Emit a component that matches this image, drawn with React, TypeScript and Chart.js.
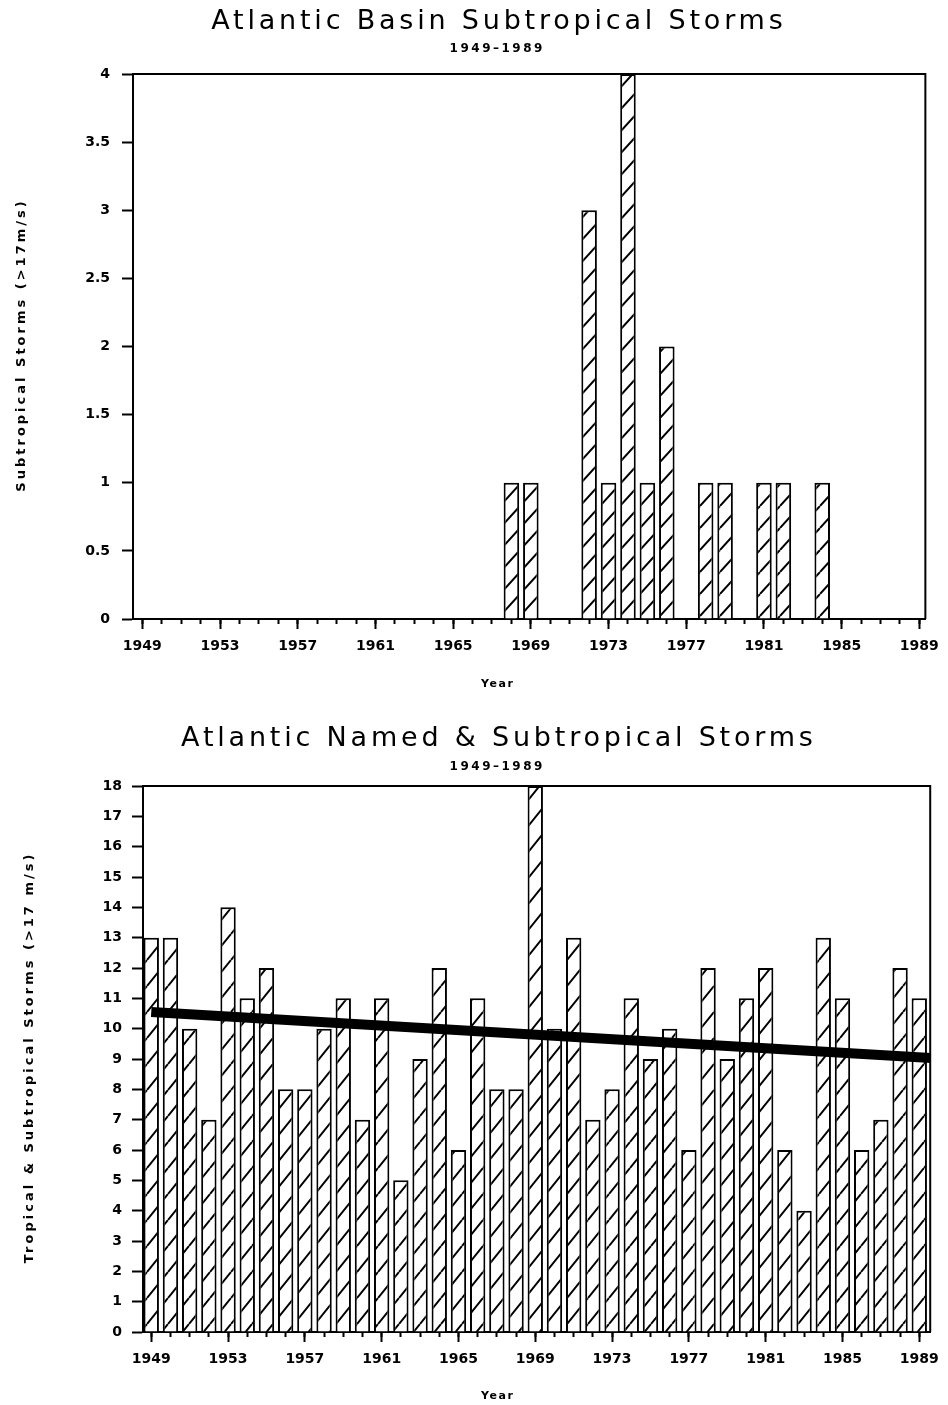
import React, { useEffect, useRef } from 'react';
import { Chart, registerables } from 'chart.js';

Chart.register(...registerables);

// ---------- data ----------
const YEARS = [
  1949, 1950, 1951, 1952, 1953, 1954, 1955, 1956, 1957, 1958,
  1959, 1960, 1961, 1962, 1963, 1964, 1965, 1966, 1967, 1968,
  1969, 1970, 1971, 1972, 1973, 1974, 1975, 1976, 1977, 1978,
  1979, 1980, 1981, 1982, 1983, 1984, 1985, 1986, 1987, 1988, 1989,
];
const LABELED_YEARS = [1949, 1953, 1957, 1961, 1965, 1969, 1973, 1977, 1981, 1985, 1989];

const SUBTROPICAL_STORMS = [
  0, 0, 0, 0, 0, 0, 0, 0, 0, 0,
  0, 0, 0, 0, 0, 0, 0, 0, 0, 1,
  1, 0, 0, 3, 1, 4, 1, 2, 0, 1,
  1, 0, 1, 1, 0, 1, 0, 0, 0, 0, 0,
];
const NAMED_AND_SUBTROPICAL = [
  13, 13, 10, 7, 14, 11, 12, 8, 8, 10,
  11, 7, 11, 5, 9, 12, 6, 11, 8, 8,
  18, 10, 13, 7, 8, 11, 9, 10, 6, 12,
  9, 11, 12, 6, 4, 13, 11, 6, 7, 12, 11,
];
const TREND_YEARS = [1949, 1989.6];
const TREND_VALUES = [10.55, 9.03];

const TOP_TITLE = 'Atlantic Basin Subtropical Storms';
const BOTTOM_TITLE = 'Atlantic Named & Subtropical Storms';
const SUBTITLE = '1949\u20131989';
const TOP_Y_TITLE = 'Subtropical Storms (>17m/s)';
const BOTTOM_Y_TITLE = 'Tropical & Subtropical Storms (>17 m/s)';
const X_TITLE = 'Year';

const FAMILY = '"DejaVu Sans", "Liberation Sans", sans-serif';

type Spec = {
  height: number;
  values: number[];
  yMax: number;
  yStep: number;
  xMin: number;
  xMax: number;
  plotLeft: number;
  padRight: number;
  padTop: number;
  axisHeight: number;
  yTickPad: number;
  title: string;
  yTitle: string;
  titleY: number;
  subtitleY: number;
  yTitleX: number;
  xTitleY: number;
  hatchW: number;
  hatchH: number;
  trend: boolean;
};

const TOP_SPEC: Spec = {
  height: 700,
  values: SUBTROPICAL_STORMS,
  yMax: 4,
  yStep: 0.5,
  xMin: 1948.52,
  xMax: 1989.31,
  plotLeft: 133,
  padRight: 22,
  padTop: 74,
  axisHeight: 81,
  yTickPad: 12,
  title: TOP_TITLE,
  yTitle: TOP_Y_TITLE,
  titleY: 22,
  subtitleY: 49,
  yTitleX: 22,
  xTitleY: 684,
  hatchW: 20,
  hatchH: 22,
  trend: false,
};

const BOTTOM_SPEC: Spec = {
  height: 705,
  values: NAMED_AND_SUBTROPICAL,
  yMax: 18,
  yStep: 1,
  xMin: 1948.57,
  xMax: 1989.57,
  plotLeft: 143,
  padRight: 11,
  padTop: 86,
  axisHeight: 73,
  yTickPad: 10,
  title: BOTTOM_TITLE,
  yTitle: BOTTOM_Y_TITLE,
  titleY: 39,
  subtitleY: 67,
  yTitleX: 30,
  xTitleY: 696,
  hatchW: 21,
  hatchH: 26,
  trend: true,
};

function makeHatch(ctx: CanvasRenderingContext2D, w: number, h: number) {
  const c = document.createElement('canvas');
  c.width = w;
  c.height = h;
  const g = c.getContext('2d')!;
  g.fillStyle = '#ffffff';
  g.fillRect(0, 0, w, h);
  g.strokeStyle = '#000000';
  g.lineWidth = 2;
  g.beginPath();
  for (const dx of [-w, 0, w]) {
    g.moveTo(dx, h);
    g.lineTo(dx + w, 0);
  }
  g.stroke();
  return ctx.createPattern(c, 'repeat');
}

function drawText(
  ctx: CanvasRenderingContext2D,
  text: string,
  x: number,
  y: number,
  font: string,
  spacing: number,
  rotate = false,
) {
  ctx.save();
  ctx.font = font;
  (ctx as any).letterSpacing = spacing + 'px';
  ctx.fillStyle = '#000';
  ctx.textAlign = 'center';
  ctx.textBaseline = 'middle';
  ctx.translate(x, y);
  if (rotate) ctx.rotate(-Math.PI / 2);
  ctx.fillText(text, spacing / 2, 0);
  ctx.restore();
}

function StormChart({ spec }: { spec: Spec }) {
  const ref = useRef<HTMLCanvasElement>(null);

  useEffect(() => {
    const canvas = ref.current!;
    const ctx = canvas.getContext('2d')!;
    const pattern = makeHatch(ctx, spec.hatchW, spec.hatchH);

    const datasets: any[] = [
      {
        type: 'bar',
        data: YEARS.map((x, i) => ({ x, y: spec.values[i] })),
        backgroundColor: pattern,
        borderColor: '#000',
        borderWidth: 2,
        barPercentage: 0.8,
        categoryPercentage: 1,
        order: 1,
        xAxisID: 'x',
        yAxisID: 'y',
      },
    ];
    if (spec.trend) {
      datasets.push({
        type: 'line',
        data: TREND_YEARS.map((x, i) => ({ x, y: TREND_VALUES[i] })),
        borderColor: '#000',
        borderWidth: 10,
        pointRadius: 0,
        fill: false,
        clip: 0,
        order: 0,
        xAxisID: 'x',
        yAxisID: 'y',
      });
    }

    const textPlugin = {
      id: 'stormText',
      afterDraw(chart: any) {
        const c = chart.ctx as CanvasRenderingContext2D;
        drawText(c, spec.title, 497, spec.titleY, `27px ${FAMILY}`, 3.8);
        drawText(c, SUBTITLE, 496, spec.subtitleY, `bold 12px ${FAMILY}`, 2.5);
        const ca = chart.chartArea;
        drawText(c, spec.yTitle, spec.yTitleX, (ca.top + ca.bottom) / 2, `bold 13px ${FAMILY}`, 3, true);
        drawText(c, X_TITLE, 497, spec.xTitleY, `bold 11px ${FAMILY}`, 1.5);
      },
    };

    const framePlugin = {
      id: 'stormFrame',
      afterDraw(chart: any) {
        const c = chart.ctx as CanvasRenderingContext2D;
        const { left, right, top, bottom } = chart.chartArea;
        c.save();
        c.strokeStyle = '#000';
        c.lineWidth = 2;
        c.beginPath();
        c.moveTo(left, top);
        c.lineTo(right, top);
        c.lineTo(right, bottom);
        c.stroke();
        c.restore();
      },
    };

    const tickFont = { family: FAMILY, size: 14, weight: 'bold' as const };

    const chart = new Chart(ctx, {
      type: 'bar',
      data: { datasets },
      options: {
        responsive: false,
        animation: false,
        events: [],
        layout: {
          padding: { left: 0, right: spec.padRight, top: spec.padTop, bottom: 0 },
        },
        plugins: {
          legend: { display: false },
          tooltip: { enabled: false },
          title: { display: false },
        },
        scales: {
          x: {
            type: 'linear',
            position: 'bottom',
            min: spec.xMin,
            max: spec.xMax,
            offset: false,
            weight: 1,
            afterBuildTicks: (axis: any) => {
              axis.ticks = LABELED_YEARS.map((v) => ({ value: v }));
            },
            afterFit: (axis: any) => {
              axis.height = spec.axisHeight;
            },
            ticks: {
              autoSkip: false,
              maxRotation: 0,
              minRotation: 0,
              color: '#000',
              font: tickFont,
              padding: 9,
              callback: (v: any) => String(v),
            },
            grid: {
              display: true,
              offset: false,
              drawOnChartArea: false,
              drawTicks: true,
              tickLength: 10,
              tickWidth: 2,
              tickColor: '#000',
            },
            border: { display: true, color: '#000', width: 2 },
          },
          xMinor: {
            type: 'linear',
            position: 'bottom',
            min: spec.xMin,
            max: spec.xMax,
            offset: false,
            weight: 0,
            afterBuildTicks: (axis: any) => {
              axis.ticks = YEARS.map((v) => ({ value: v }));
            },
            afterFit: (axis: any) => {
              axis.height = 0;
            },
            ticks: { display: false },
            grid: {
              display: true,
              offset: false,
              drawOnChartArea: false,
              drawTicks: true,
              tickLength: 5,
              tickWidth: 2,
              tickColor: '#000',
            },
            border: { display: false },
          },
          y: {
            type: 'linear',
            position: 'left',
            min: 0,
            max: spec.yMax,
            afterFit: (axis: any) => {
              axis.width = spec.plotLeft;
            },
            ticks: {
              stepSize: spec.yStep,
              color: '#000',
              font: tickFont,
              padding: spec.yTickPad,
              callback: (v: any) => String(v),
            },
            grid: {
              display: true,
              drawOnChartArea: false,
              drawTicks: true,
              tickLength: 11,
              tickWidth: 2,
              tickColor: '#000',
            },
            border: { display: true, color: '#000', width: 2 },
          },
        },
      } as any,
      plugins: [textPlugin, framePlugin],
    });

    return () => {
      chart.destroy();
    };
  }, [spec]);

  return (
    <canvas
      ref={ref}
      width={948}
      height={spec.height}
      style={{ display: 'block', width: 948, height: spec.height }}
    />
  );
}

export default function App() {
  return (
    <div
      style={{
        position: 'absolute',
        left: 0,
        top: 0,
        width: 948,
        height: 1405,
        background: '#fff',
        overflow: 'hidden',
      }}
    >
      <div style={{ position: 'absolute', left: 0, top: 0 }}>
        <StormChart spec={TOP_SPEC} />
      </div>
      <div style={{ position: 'absolute', left: 0, top: 700 }}>
        <StormChart spec={BOTTOM_SPEC} />
      </div>
    </div>
  );
}
